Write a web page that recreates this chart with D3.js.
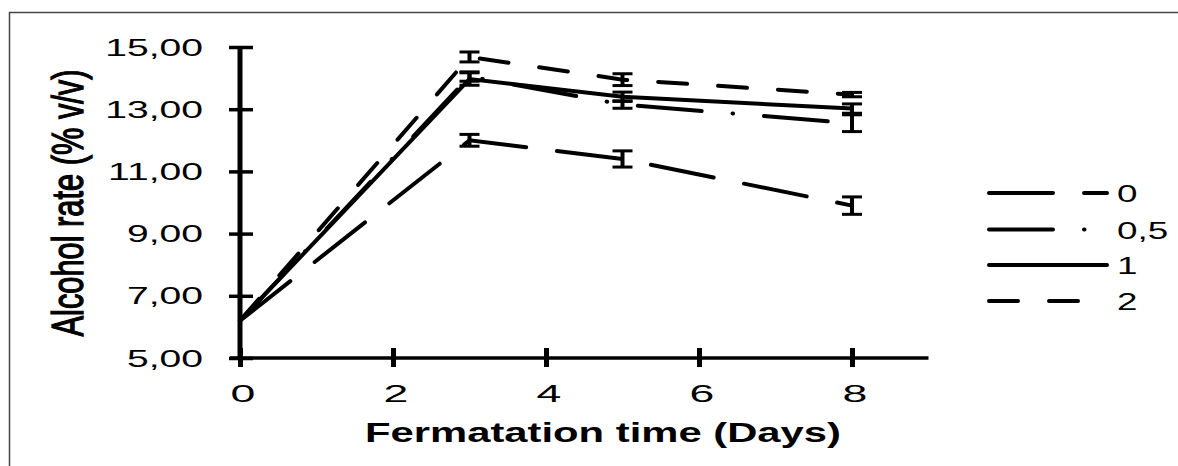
<!DOCTYPE html>
<html>
<head>
<meta charset="utf-8">
<script src="https://cdn.jsdelivr.net/npm/d3@7"></script>
<style>
  body { margin: 0; background: #fff; }
  text { font-family: "Liberation Sans", Arial, sans-serif; fill: #000; }
</style>
</head>
<body>
<script>
// data
var days = [0, 3, 5, 8];
var seriesNames = ["0", "0,5", "1", "2"];
var values0 = [6.2, 12.0, 11.4, 9.9];
var values05 = [6.2, 14.05, 13.15, 12.55];
var values1 = [6.2, 13.97, 13.4, 13.02];
var values2 = [6.2, 14.68, 13.95, 13.47];
var errors0 = [0, 0.19, 0.26, 0.28];
var errors05 = [0, 0.15, 0.12, 0.27];
var errors1 = [0, 0.2, 0.15, 0.15];
var errors2 = [0, 0.16, 0.19, 0.07];
var yTicks = [5, 7, 9, 11, 13, 15];
var xTicks = [0, 2, 4, 6, 8];

var svgWidth = 1178, svgHeight = 466;
var dashes = {"0": "64 31", "0,5": "64 31 0.5 31", "1": null, "2": "29 31"};

var svg = d3.select("body").append("svg")
  .attr("width", svgWidth)
  .attr("height", svgHeight);

// outer frame (left and top edges)
svg.append("path")
  .attr("d", "M9.5,466V12.5H1178")
  .attr("fill", "none")
  .attr("stroke", "#444")
  .attr("stroke-width", 1.5);

var x = d3.scaleLinear().domain([0, 9]).range([240, 928.5]);
var y = d3.scaleLinear().domain([5, 15]).range([358, 47]);

var series = [
  {name: "0", vals: values0, errs: errors0},
  {name: "0,5", vals: values05, errs: errors05},
  {name: "1", vals: values1, errs: errors1},
  {name: "2", vals: values2, errs: errors2}
];

// axes
var yAxis = svg.append("g")
  .attr("transform", "translate(" + x(0) + ",0)")
  .call(d3.axisLeft(y).tickValues(yTicks).tickFormat(""));
yAxis.select(".domain").attr("d", "M0," + y(5) + "V" + y(15))
  .attr("stroke", "#000").attr("stroke-width", 5);
yAxis.selectAll(".tick line").attr("x1", -11).attr("x2", 13)
  .attr("stroke", "#000").attr("stroke-width", 3.5);

var xAxis = svg.append("g")
  .attr("transform", "translate(0," + y(5) + ")")
  .call(d3.axisBottom(x).tickValues(xTicks).tickFormat(""));
xAxis.select(".domain").attr("d", "M" + (x(0) - 10) + ",0H" + x(9))
  .attr("stroke", "#000").attr("stroke-width", 3.5);
xAxis.selectAll(".tick line").attr("y1", -10).attr("y2", 9)
  .attr("stroke", "#000").attr("stroke-width", 5);

// tick labels, stretched like the original picture
svg.selectAll(".ylab")
  .data(yTicks)
  .enter()
  .append("text")
  .attr("class", "ylab")
  .attr("transform", d => "translate(203," + (y(d) + 8.5) + ") scale(1.7,1)")
  .attr("text-anchor", "end")
  .attr("font-size", 23)
  .text(d => d3.format(".2f")(d).replace(".", ","));

svg.selectAll(".xlab")
  .data(xTicks)
  .enter()
  .append("text")
  .attr("class", "xlab")
  .attr("transform", d => "translate(" + (x(d) + 3) + ",402) scale(1.9,1)")
  .attr("text-anchor", "middle")
  .attr("font-size", 23.5)
  .text(d => d);

// axis titles
svg.append("text")
  .attr("x", 603).attr("y", 442)
  .attr("text-anchor", "middle")
  .attr("font-size", 28)
  .attr("font-weight", "bold")
  .attr("textLength", 476)
  .attr("lengthAdjust", "spacingAndGlyphs")
  .text("Fermatation time (Days)");

svg.append("text")
  .attr("transform", "translate(83,203) scale(1.49,1) rotate(-90)")
  .attr("text-anchor", "middle")
  .attr("font-size", 30)
  .attr("stroke", "#000")
  .attr("stroke-width", 0.9)
  .attr("textLength", 267)
  .attr("lengthAdjust", "spacingAndGlyphs")
  .text("Alcohol rate (% v/v)");

// lines
var line = d3.line().x((d, i) => x(days[i])).y(d => y(d));
svg.selectAll(".series")
  .data(series)
  .enter()
  .append("path")
  .attr("class", "series")
  .attr("d", d => line(d.vals))
  .attr("fill", "none")
  .attr("stroke", "#000")
  .attr("stroke-width", 4)
  .attr("stroke-linecap", "round")
  .attr("stroke-dasharray", d => dashes[d.name]);

// error bars
series.forEach(function(s) {
  var pts = days.map((d, i) => ({day: d, v: s.vals[i], e: s.errs[i]})).filter(p => p.e > 0);
  var g = svg.append("g");
  g.selectAll("line.stem")
    .data(pts).enter().append("line")
    .attr("x1", p => x(p.day)).attr("x2", p => x(p.day))
    .attr("y1", p => y(p.v + p.e)).attr("y2", p => y(p.v - p.e))
    .attr("stroke", "#000").attr("stroke-width", 4);
  [1, -1].forEach(function(sign) {
    g.selectAll(null)
      .data(pts).enter().append("line")
      .attr("x1", p => x(p.day) - 10).attr("x2", p => x(p.day) + 10)
      .attr("y1", p => y(p.v + sign * p.e)).attr("y2", p => y(p.v + sign * p.e))
      .attr("stroke", "#000").attr("stroke-width", 3);
  });
});

// legend
var legendY = [193, 229.5, 265, 301];
var legend = svg.selectAll(".legend")
  .data(series)
  .enter()
  .append("g")
  .attr("class", "legend")
  .attr("transform", (d, i) => "translate(0," + legendY[i] + ")");
legend.append("line")
  .attr("x1", 989).attr("x2", 1107)
  .attr("stroke", "#000")
  .attr("stroke-width", 4)
  .attr("stroke-linecap", "round")
  .attr("stroke-dasharray", d => dashes[d.name]);
legend.append("text")
  .attr("transform", "translate(1117,9) scale(1.6,1)")
  .attr("font-size", 23)
  .text(d => d.name);
</script>
</body>
</html>
